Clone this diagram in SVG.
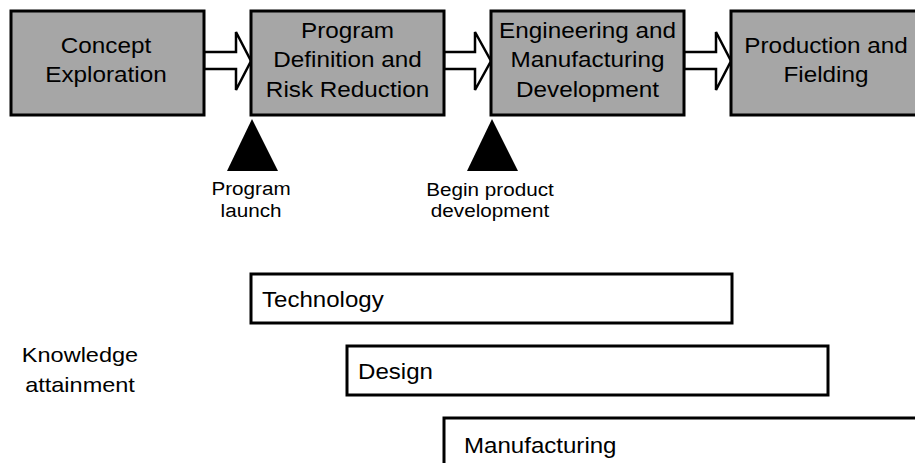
<svg xmlns="http://www.w3.org/2000/svg" width="915" height="463" viewBox="0 0 915 463">
<style>
.phase{fill:#a6a6a6;stroke:#000;stroke-width:3}
.bar{fill:#fff;stroke:#000;stroke-width:3}
.arrow{fill:#fff;stroke:#000;stroke-width:2.5;stroke-linejoin:miter}
.mile{fill:#000}
text{font-family:"Liberation Sans",Arial,Helvetica,sans-serif;fill:#000}
.t22{font-size:21.7px}
.t21{font-size:21px}
.tb{font-size:21.5px}
.t18{font-size:18.8px}
.mid{text-anchor:middle}
</style>
<rect width="915" height="463" fill="#fff"/>
<g id="connectors">
<polygon class="arrow" points="204,52 236,52 236,32 251,61 236,90 236,69 204,69"/>
<polygon class="arrow" points="444,52 475,52 475,32 491,61 475,90 475,69 444,69"/>
<polygon class="arrow" points="684,52 716,52 716,32 731,61 716,90 716,69 684,69"/>
</g>
<g id="concept">
<rect class="phase" x="11" y="11" width="193" height="104"/>
<text class="t22 mid" transform="translate(106,0) scale(1.12,1)"><tspan x="0" y="53">Concept</tspan><tspan x="0" y="82">Exploration</tspan></text>
</g>
<g id="pdrr">
<rect class="phase" x="251" y="11" width="193" height="104"/>
<text class="t22 mid" transform="translate(347.5,0) scale(1.12,1)"><tspan x="0" y="38">Program</tspan><tspan x="0" y="67.5">Definition and</tspan><tspan x="0" y="97">Risk Reduction</tspan></text>
</g>
<g id="emd">
<rect class="phase" x="491" y="11" width="193" height="104"/>
<text class="t22 mid" transform="translate(587.5,0) scale(1.12,1)"><tspan x="0" y="38">Engineering and</tspan><tspan x="0" y="67.5">Manufacturing</tspan><tspan x="0" y="97">Development</tspan></text>
</g>
<g id="production">
<rect class="phase" x="731" y="11" width="200" height="104"/>
<text class="t22 mid" transform="translate(826,0) scale(1.12,1)"><tspan x="0" y="53">Production and</tspan><tspan x="0" y="82">Fielding</tspan></text>
</g>
<g id="launch">
<polygon class="mile" points="252,119 278,171 227,171"/>
<text class="t18 mid" transform="translate(251,0) scale(1.1,1)"><tspan x="0" y="195">Program</tspan><tspan x="0" y="217">launch</tspan></text>
</g>
<g id="begin">
<polygon class="mile" points="492,119 518,171 467,171"/>
<text class="t18 mid" transform="translate(490,0) scale(1.1,1)"><tspan x="0" y="196">Begin product</tspan><tspan x="0" y="217">development</tspan></text>
</g>
<g id="knowledge">
<text class="t21 mid" transform="translate(80,0) scale(1.12,1)"><tspan x="0" y="362">Knowledge</tspan><tspan x="0" y="392">attainment</tspan></text>
</g>
<g id="technology">
<rect class="bar" x="251" y="274" width="481" height="49"/>
<text class="tb" transform="translate(262,0) scale(1.12,1)" x="0" y="307">Technology</text>
</g>
<g id="design">
<rect class="bar" x="347" y="346" width="481" height="49"/>
<text class="tb" transform="translate(358,0) scale(1.12,1)" x="0" y="379">Design</text>
</g>
<g id="manufacturing">
<rect class="bar" x="444" y="418" width="490" height="60"/>
<text class="tb" transform="translate(464,0) scale(1.12,1)" x="0" y="453">Manufacturing</text>
</g>
</svg>
